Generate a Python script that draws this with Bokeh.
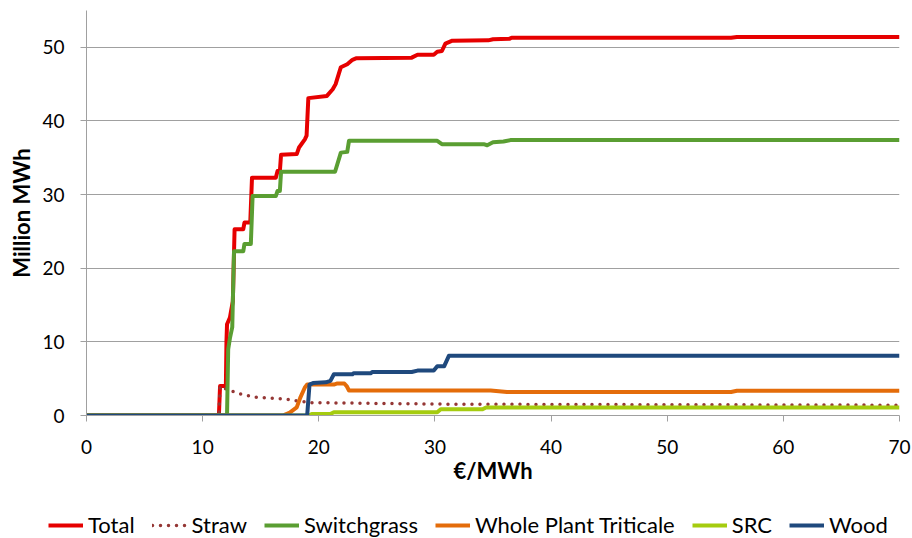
from bokeh.plotting import figure
from bokeh.layouts import column
from bokeh.models import Range1d, FixedTicker, Legend, LegendItem
from bokeh.embed import file_html
from bokeh.resources import INLINE

# Cumulative supply curves: price (€/MWh) vs cumulative supply (million MWh)
total_x = [0, 11.4, 11.5, 12.0, 12.05, 12.1, 12.35, 12.45, 12.6, 12.75, 13.5, 13.6, 14.1,
           14.25, 16.3, 16.45, 16.65, 16.75, 18.1, 18.3, 18.8, 18.95, 19.1, 20.7, 21.2,
           21.45, 21.9, 22.45, 22.9, 23.2, 28.0, 28.5, 29.9, 30.2, 30.6, 30.9, 31.5,
           34.6, 35.0, 36.4, 36.6, 55.5, 56.0, 70]
total_y = [0, 0, 4.0, 4.0, 10.0, 12.4, 13.3, 14.2, 15.5, 25.3, 25.3, 26.2, 26.2,
           32.3, 32.3, 33.2, 33.2, 35.4, 35.5, 36.4, 37.5, 38.0, 43.1, 43.4, 44.3,
           45.0, 47.3, 47.7, 48.3, 48.5, 48.6, 49.0, 49.0, 49.4, 49.5, 50.5, 50.9,
           50.95, 51.1, 51.15, 51.3, 51.3, 51.4, 51.4]

straw_x = [0, 11.4, 11.5, 12.0, 13.3, 14.4, 15.85, 17.3, 18.1, 19.3, 22.0, 30.0, 40.0, 55.0, 70]
straw_y = [0, 0, 4.0, 3.6, 2.9, 2.5, 2.35, 2.2, 2.0, 1.75, 1.7, 1.55, 1.5, 1.45, 1.4]

switch_x = [0, 12.1, 12.2, 12.35, 12.55, 12.7, 13.5, 13.6, 14.15, 14.3, 16.3, 16.45, 16.65,
            16.75, 21.4, 21.9, 22.45, 22.6, 30.2, 30.6, 34.2, 34.5, 35.0, 35.9, 36.5, 70]
switch_y = [0, 0, 9.0, 10.5, 12.0, 22.3, 22.3, 23.3, 23.3, 29.8, 29.8, 30.5, 30.5,
            33.1, 33.1, 35.7, 35.8, 37.3, 37.3, 36.85, 36.85, 36.7, 37.1, 37.2, 37.4, 37.4]

wpt_x = [0, 16.9, 17.5, 18.1, 18.4, 18.8, 19.0, 21.3, 21.6, 22.2, 22.4, 22.6, 34.8, 36.2,
         55.5, 56.0, 70]
wpt_y = [0, 0, 0.4, 1.1, 2.4, 3.8, 4.2, 4.2, 4.35, 4.35, 4.0, 3.4, 3.4, 3.2,
         3.2, 3.35, 3.35]

src_x = [0, 19.2, 19.4, 21.0, 21.3, 30.2, 30.5, 34.1, 34.4, 70]
src_y = [0, 0, 0.2, 0.2, 0.45, 0.45, 0.85, 0.85, 1.1, 1.1]

wood_x = [0, 19.0, 19.2, 19.5, 20.6, 21.0, 21.3, 22.9, 23.0, 24.5, 24.6, 28.0, 28.5,
          29.9, 30.2, 30.8, 31.2, 70]
wood_y = [0, 0, 4.2, 4.4, 4.5, 4.7, 5.6, 5.6, 5.75, 5.75, 5.9, 5.9, 6.1,
          6.1, 6.7, 6.7, 8.1, 8.1]

series_names = ["Total", "Straw", "Switchgrass", "Whole Plant Triticale", "SRC", "Wood"]
x_ticks = [0, 10, 20, 30, 40, 50, 60, 70]
y_ticks = [0, 10, 20, 30, 40, 50]

FONT = "Lato"
AXIS_GREY = "#A0A0A0"

styles = [
    dict(line_color="#E60000", line_width=4, line_join="round"),
    dict(line_color="#953735", line_width=3.5, line_dash="0 8", line_cap="round"),
    dict(line_color="#5A9E32", line_width=4, line_join="round"),
    dict(line_color="#E46C0A", line_width=4, line_join="round"),
    dict(line_color="#A5CC0F", line_width=4, line_join="round"),
    dict(line_color="#1F497D", line_width=4, line_join="round"),
]
series = [(total_x, total_y), (straw_x, straw_y), (switch_x, switch_y),
          (wpt_x, wpt_y), (src_x, src_y), (wood_x, wood_y)]

# Main chart
p = figure(width=912, height=500, output_backend="svg", toolbar_location=None,
           x_range=Range1d(0, 70), y_range=Range1d(0, 55),
           min_border_left=86, min_border_right=13, min_border_top=10,
           min_border_bottom=85)
p.outline_line_color = None
p.xgrid.grid_line_color = None
p.ygrid.grid_line_color = AXIS_GREY
p.ygrid.grid_line_width = 1
p.ygrid.ticker = FixedTicker(ticks=y_ticks)

for ax, ticks in ((p.xaxis[0], x_ticks), (p.yaxis[0], y_ticks)):
    ax.ticker = FixedTicker(ticks=ticks)
    ax.axis_line_color = AXIS_GREY
    ax.major_tick_line_color = AXIS_GREY
    ax.major_tick_in = 0
    ax.major_tick_out = 6
    ax.minor_tick_line_color = None
    ax.major_label_text_font = FONT
    ax.major_label_text_font_size = "19px"
    ax.major_label_text_color = "#000000"
    ax.axis_label_text_font = FONT
    ax.axis_label_text_font_size = "22px"
    ax.axis_label_text_font_style = "bold"
    ax.axis_label_text_color = "#000000"

p.xaxis.axis_label = "€/MWh"
p.yaxis.axis_label = "Million MWh"
p.xaxis.major_label_standoff = 18
p.xaxis.axis_label_standoff = 0
p.yaxis.major_label_standoff = 16
p.yaxis.axis_label_standoff = 4

for (xs, ys), st in zip(series, styles):
    p.line(xs, ys, **st)

# Legend strip under the chart; its view range lies outside the data so only
# the legend swatches show.
lg = figure(width=912, height=38, output_backend="svg", toolbar_location=None,
            x_range=Range1d(100, 101), y_range=Range1d(100, 101),
            x_axis_type=None, y_axis_type=None, min_border=0)
lg.outline_line_color = None
lg.xgrid.grid_line_color = None
lg.ygrid.grid_line_color = None
items = []
for name, (xs, ys), st in zip(series_names, series, styles):
    r = lg.line(xs, ys, **st)
    items.append(LegendItem(label=name, renderers=[r]))

legend = Legend(items=items, orientation="horizontal")
legend.label_text_font = FONT
legend.label_text_color = "#000000"
legend.glyph_height = 20
legend.label_standoff = 5
legend.padding = 0
legend.margin = 0
legend.border_line_color = None
legend.background_fill_alpha = 0

if "frame_align" in lg.properties():
    # keep the strip's own frame spanning the full width
    lg.frame_align = False
    legend.location = (48, 0)
    legend.label_text_font_size = "22px"
    legend.glyph_width = 35
    legend.spacing = 17
else:
    # the strip's frame follows the chart frame: fit the legend inside it
    legend.location = (0, 0)
    legend.label_text_font_size = "21px"
    legend.glyph_width = 32
    legend.spacing = 12
lg.add_layout(legend, "center")

open("out.html", "w").write(file_html(column(p, lg, spacing=0), INLINE))
